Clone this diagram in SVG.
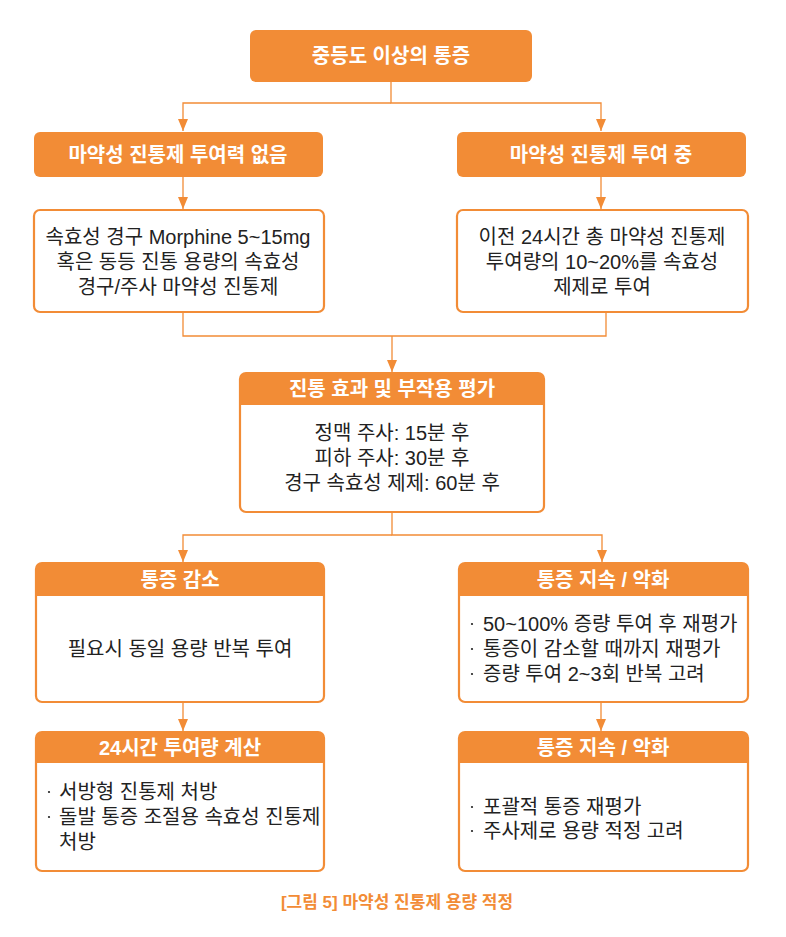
<svg xmlns="http://www.w3.org/2000/svg" width="786" height="937" viewBox="0 0 786 937">
<defs>
<style>
.fill{fill:#F28C36;}
.box{fill:#FFFFFF;stroke:#F28C36;stroke-width:2.2;}
.line{fill:none;stroke:#F28C36;stroke-width:1.3;}
.ht{font-family:"Liberation Sans","Noto Sans CJK KR",sans-serif;font-weight:700;font-size:20px;fill:#FFFFFF;text-anchor:middle;}
.bt{font-family:"Liberation Sans","Noto Sans CJK KR",sans-serif;font-weight:400;font-size:20px;fill:#222222;text-anchor:middle;}
.lt{font-family:"Liberation Sans","Noto Sans CJK KR",sans-serif;font-weight:400;font-size:20px;fill:#222222;}
.dot{fill:#222222;}
.cap{font-family:"Liberation Sans","Noto Sans CJK KR",sans-serif;font-weight:700;font-size:17px;fill:#F28C36;text-anchor:middle;}
</style>
<marker id="arr" viewBox="0 0 12 10" refX="12" refY="5" markerWidth="12" markerHeight="10" markerUnits="userSpaceOnUse" orient="auto">
<path d="M0,0 L12,5 L0,10 Z" fill="#F28C36"/>
</marker>
</defs>
<rect width="786" height="937" fill="#FFFFFF"/>

<g id="connectors">
<path class="line" d="M391,82 V103 H601 V131" marker-end="url(#arr)"/>
<path class="line" d="M391,103 H183 V131" marker-end="url(#arr)"/>
<path class="line" d="M183,177 V209" marker-end="url(#arr)"/>
<path class="line" d="M601,177 V209" marker-end="url(#arr)"/>
<path class="line" d="M183,313 V336 H606 V313"/>
<path class="line" d="M392,336 V372" marker-end="url(#arr)"/>
<path class="line" d="M392,512 V535 H602 V562" marker-end="url(#arr)"/>
<path class="line" d="M392,535 H183 V562" marker-end="url(#arr)"/>
<path class="line" d="M183,702 V731" marker-end="url(#arr)"/>
<path class="line" d="M601,702 V731" marker-end="url(#arr)"/>
</g>

<g id="n1">
<rect class="fill" x="250" y="30" width="282" height="52" rx="6"/>
<text class="ht" x="391" y="63">중등도 이상의 통증</text>
</g>

<g id="n2">
<rect class="fill" x="34" y="132" width="289" height="45" rx="6"/>
<text class="ht" x="178" y="162">마약성 진통제 투여력 없음</text>
</g>

<g id="n3">
<rect class="fill" x="457" y="132" width="289" height="45" rx="6"/>
<text class="ht" x="601" y="162">마약성 진통제 투여 중</text>
</g>

<g id="n4">
<rect class="box" x="34" y="210" width="290" height="102" rx="6"/>
<text class="bt"><tspan x="178" y="244">속효성 경구 Morphine 5~15mg</tspan><tspan x="178" y="269">혹은 동등 진통 용량의 속효성</tspan><tspan x="178" y="294">경구/주사 마약성 진통제</tspan></text>
</g>

<g id="n5">
<rect class="box" x="457" y="210" width="291" height="102" rx="6"/>
<text class="bt"><tspan x="602" y="244">이전 24시간 총 마약성 진통제</tspan><tspan x="602" y="269">투여량의 10~20%를 속효성</tspan><tspan x="602" y="294">제제로 투여</tspan></text>
</g>

<g id="n6">
<rect class="box" x="240" y="373" width="304" height="139" rx="6"/>
<path class="fill" d="M246,373 H538 A6,6 0 0 1 544,379 V405 H240 V379 A6,6 0 0 1 246,373 Z"/>
<text class="ht" x="392" y="396">진통 효과 및 부작용 평가</text>
<text class="bt"><tspan x="392" y="440">정맥 주사: 15분 후</tspan><tspan x="392" y="465">피하 주사: 30분 후</tspan><tspan x="392" y="490">경구 속효성 제제: 60분 후</tspan></text>
</g>

<g id="n7">
<rect class="box" x="36" y="563" width="288" height="139" rx="6"/>
<path class="fill" d="M42,563 H318 A6,6 0 0 1 324,569 V596 H36 V569 A6,6 0 0 1 42,563 Z"/>
<text class="ht" x="180" y="587">통증 감소</text>
<text class="bt" x="180" y="656">필요시 동일 용량 반복 투여</text>
</g>

<g id="n8">
<rect class="box" x="459" y="563" width="289" height="139" rx="6"/>
<path class="fill" d="M465,563 H742 A6,6 0 0 1 748,569 V596 H459 V569 A6,6 0 0 1 465,563 Z"/>
<text class="ht" x="603" y="587">통증 지속 / 악화</text>
<circle class="dot" cx="472" cy="624" r="1.1"/>
<circle class="dot" cx="472" cy="649" r="1.1"/>
<circle class="dot" cx="472" cy="674" r="1.1"/>
<text class="lt"><tspan x="483" y="631">50~100% 증량 투여 후 재평가</tspan><tspan x="483" y="656">통증이 감소할 때까지 재평가</tspan><tspan x="483" y="681">증량 투여 2~3회 반복 고려</tspan></text>
</g>

<g id="n9">
<rect class="box" x="36" y="732" width="288" height="139" rx="6"/>
<path class="fill" d="M42,732 H318 A6,6 0 0 1 324,738 V763 H36 V738 A6,6 0 0 1 42,732 Z"/>
<text class="ht" x="180" y="755">24시간 투여량 계산</text>
<circle class="dot" cx="49" cy="792" r="1.1"/>
<circle class="dot" cx="49" cy="817" r="1.1"/>
<text class="lt"><tspan x="59" y="799">서방형 진통제 처방</tspan><tspan x="59" y="824">돌발 통증 조절용 속효성 진통제</tspan><tspan x="59" y="849">처방</tspan></text>
</g>

<g id="n10">
<rect class="box" x="459" y="732" width="289" height="139" rx="6"/>
<path class="fill" d="M465,732 H742 A6,6 0 0 1 748,738 V763 H459 V738 A6,6 0 0 1 465,732 Z"/>
<text class="ht" x="603" y="755">통증 지속 / 악화</text>
<circle class="dot" cx="472" cy="807" r="1.1"/>
<circle class="dot" cx="472" cy="831" r="1.1"/>
<text class="lt"><tspan x="483" y="814">포괄적 통증 재평가</tspan><tspan x="483" y="838">주사제로 용량 적정 고려</tspan></text>
</g>

<text class="cap" x="397" y="908">[그림 5] 마약성 진통제 용량 적정</text>
</svg>
